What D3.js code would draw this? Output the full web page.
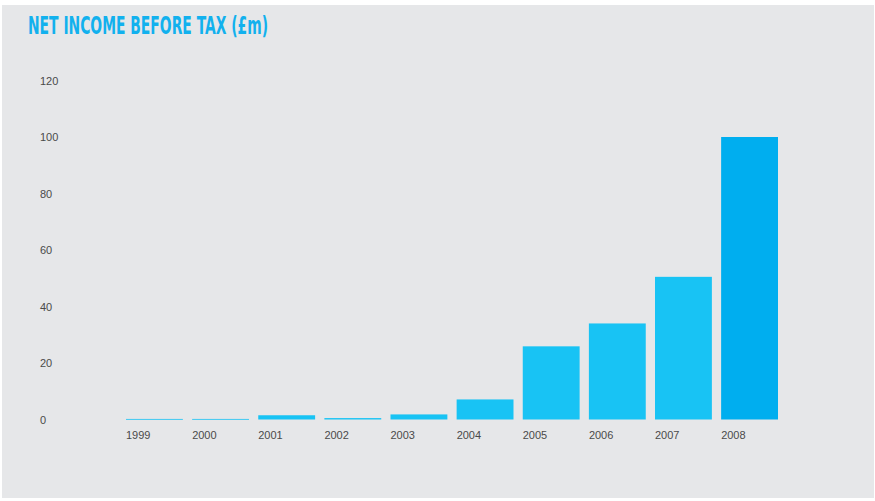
<!DOCTYPE html>
<html><head><meta charset="utf-8">
<script src="https://cdn.jsdelivr.net/npm/d3@7"></script>
<style>html,body{margin:0;padding:0;background:#fff;}svg{display:block;}</style>
</head><body>
<svg id="chart" width="875" height="501"></svg>
<script>
const years = ["1999","2000","2001","2002","2003","2004","2005","2006","2007","2008"];
const incomeValues = [0.2, 0.2, 1.5, 0.5, 1.8, 7.1, 25.9, 34.0, 50.5, 100.0];
const yTicks = [0, 20, 40, 60, 80, 100, 120];
const titleText = "NET INCOME BEFORE TAX (£m)";

const svg = d3.select("#chart");
svg.append("rect").attr("x",2).attr("y",5).attr("width",872).attr("height",493).attr("fill","#e6e7e9");

svg.append("text").attr("x",28).attr("y",33.5)
  .attr("font-family","'DejaVu Sans Condensed','DejaVu Sans',sans-serif")
  .attr("font-stretch","condensed")
  .attr("font-weight","bold").attr("font-size",25)
  .attr("fill","#12b1ee")
  .attr("textLength",240).attr("lengthAdjust","spacingAndGlyphs")
  .text(titleText);

const x = d3.scaleBand().domain(years).range([126, 778]).paddingInner(0.14).paddingOuter(0);
const y = d3.scaleLinear().domain([0,120]).range([419.5, 80.5]);

svg.append("g").selectAll("rect").data(years).join("rect")
  .attr("x", d => x(d)).attr("width", x.bandwidth())
  .attr("y", (d,i) => y(incomeValues[i]))
  .attr("height", (d,i) => Math.max(0.8, y(0) - y(incomeValues[i])))
  .attr("fill", (d,i) => i === years.length-1 ? "#00aeef" : "#18c3f4");

const yAxis = d3.axisLeft(y).tickValues(yTicks).tickSize(0).tickPadding(0);
const gy = svg.append("g").attr("transform","translate(40,0)").call(yAxis);
gy.select(".domain").remove();
gy.selectAll("text").attr("text-anchor","start").attr("x",0)
  .attr("font-family","'Liberation Sans',Arial,sans-serif").attr("font-size",11).attr("fill","#4a4a4a");

const xAxis = d3.axisBottom(x).tickSize(0).tickPadding(0);
const gx = svg.append("g").attr("transform","translate(0,431.5)").call(xAxis);
gx.select(".domain").remove();
gx.selectAll(".tick").attr("transform", d => `translate(${x(d)},0)`);
gx.selectAll("text").attr("text-anchor","start").attr("dy","0.71em").attr("y",0)
  .attr("font-family","'Liberation Sans',Arial,sans-serif").attr("font-size",11).attr("fill","#4a4a4a");
</script>
</body></html>
